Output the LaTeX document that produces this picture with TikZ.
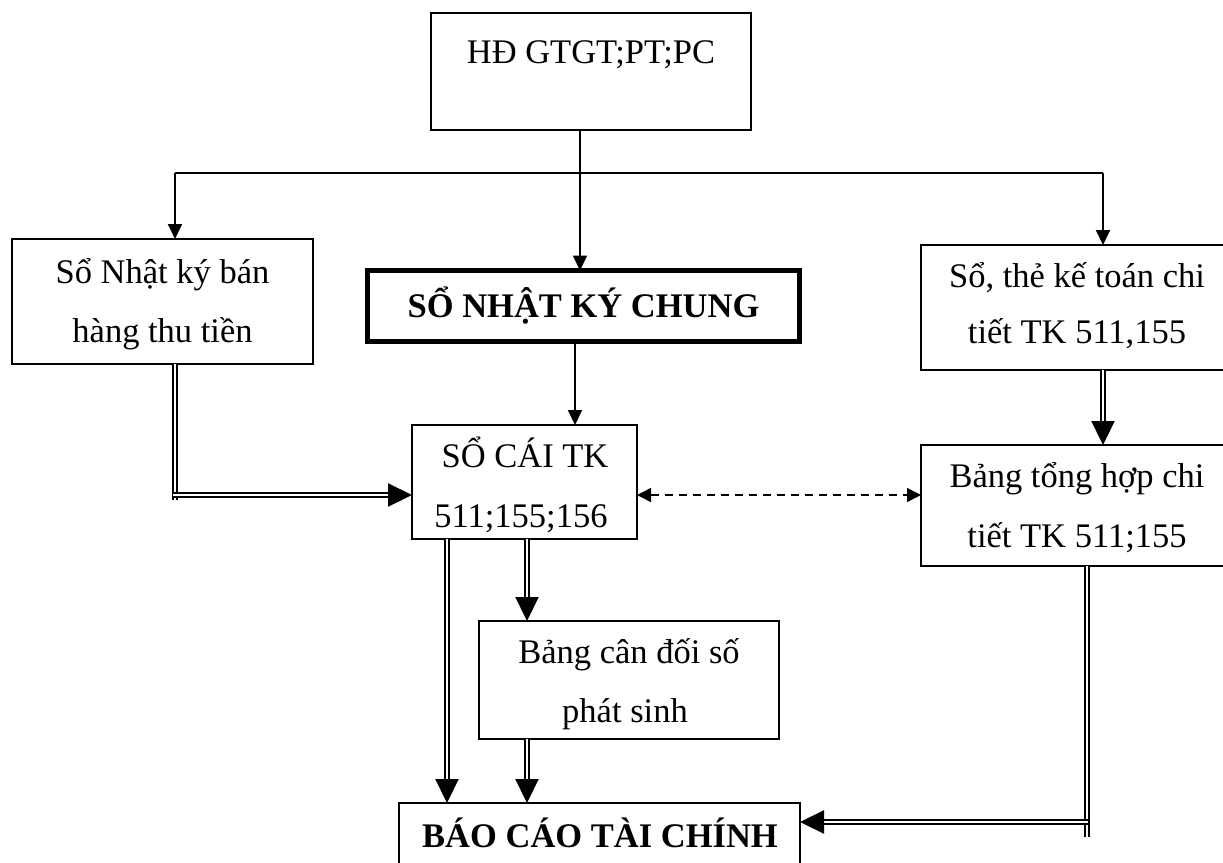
\documentclass[tikz,border=0pt]{standalone}
\usepackage{fontspec}
\setmainfont{Liberation Serif}
\usetikzlibrary{arrows.meta}

\begin{document}
\begin{tikzpicture}[x=0.5pt,y=-0.5pt,
  box/.style={draw, line width=1pt, rectangle, inner sep=0pt, outer sep=0pt},
  txt/.style={anchor=base, inner sep=0pt, font=\fontsize{17.25}{20}\selectfont},
  btxt/.style={anchor=base, inner sep=0pt, font=\fontsize{17.25}{20}\selectfont\bfseries},
  arr/.style={line width=1pt, -{Triangle[length=7.5pt,width=7pt]}},
  dbl/.style={double, line width=1.1pt, double distance=1.1pt},
  dblarr/.style={dbl, -{Triangle[length=12pt,width=11.5pt]}},
  dasharr/.style={line width=0.8pt, dash pattern=on 4pt off 3pt,
    {Triangle[length=7pt,width=7pt]}-{Triangle[length=7pt,width=7pt]}}]

\useasboundingbox (0,0) rectangle (1223,863);

% boxes
\node[box, minimum width=160pt, minimum height=58.5pt] (hd) at (591,71.5) {};
\node[box, minimum width=150.5pt, minimum height=62.5pt] (nkbh) at (162.5,301.5) {};
\node[box, line width=2.5pt, minimum width=216pt, minimum height=35.5pt] (nkc) at (583.5,306) {};
\node[box, minimum width=152.5pt, minimum height=62.5pt] (stkt) at (1073.5,307.5) {};
\node[box, minimum width=112.5pt, minimum height=57pt] (sc) at (524.5,482) {};
\node[box, minimum width=152.5pt, minimum height=60.5pt] (bth) at (1073.5,505.5) {};
\node[box, minimum width=150pt, minimum height=59pt] (bcd) at (629,680) {};
\node[box, minimum width=200.5pt, minimum height=33.5pt] (bctc) at (599.5,836.5) {};

% texts
\node[txt] (hd-t) at (591,63) {HĐ GTGT;PT;PC};
\node[txt] (nkbh-t1) at (162.5,283) {Sổ Nhật ký bán};
\node[txt] (nkbh-t2) at (162.5,342) {hàng thu tiền};
\node[btxt] (nkc-t) at (583.5,317) {SỔ NHẬT KÝ CHUNG};
\node[txt] (stkt-t1) at (1077,287) {Sổ, thẻ kế toán chi};
\node[txt] (stkt-t2) at (1077,343) {tiết TK 511,155};
\node[txt] (sc-t1) at (525,467) {SỔ CÁI TK};
\node[txt] (sc-t2) at (521,527) {511;155;156};
\node[txt] (bth-t1) at (1077,487) {Bảng tổng hợp chi};
\node[txt] (bth-t2) at (1077,547) {tiết TK 511;155};
\node[txt] (bcd-t1) at (629,663) {Bảng cân đối số};
\node[txt] (bcd-t2) at (625,722) {phát sinh};
\node[btxt] (bctc-t) at (600,847) {BÁO CÁO TÀI CHÍNH};

% distribution from the source documents
\coordinate (fork) at (580,173);
\coordinate (forkL) at (175,173);
\coordinate (forkR) at (1103,173);
\draw[line width=1pt] (forkL) -- (forkR);
\draw[arr] (hd.south -| fork) -- (nkc.north -| fork);
\draw[arr] (forkL) -- (forkL |- nkbh.north);
\draw[arr] (forkR) -- (forkR |- stkt.north);

% journal to ledger
\draw[arr] (nkc.south -| 575,0) -- (sc.north -| 575,0);

% sales journal to ledger
\draw[dbl] (nkbh.south -| 175,0) -- (175,500);
\draw[dblarr] (173,495) -- (sc.west |- 0,495);

% detail books
\draw[dblarr] (stkt.south -| 1103,0) -- (bth.north -| 1103,0);
\draw[dasharr] (sc.east |- 0,495) -- (bth.west |- 0,495);

% ledger to trial balance and reports
\draw[dblarr] (sc.south -| 447,0) -- (bctc.north -| 447,0);
\draw[dblarr] (sc.south -| 527,0) -- (bcd.north -| 527,0);
\draw[dblarr] (bcd.south -| 527,0) -- (bctc.north -| 527,0);

% summary table to reports
\draw[dbl] (bth.south -| 1087,0) -- (1087,837);
\draw[dblarr] (1088,822) -- (bctc.east |- 0,822);
\end{tikzpicture}
\end{document}
